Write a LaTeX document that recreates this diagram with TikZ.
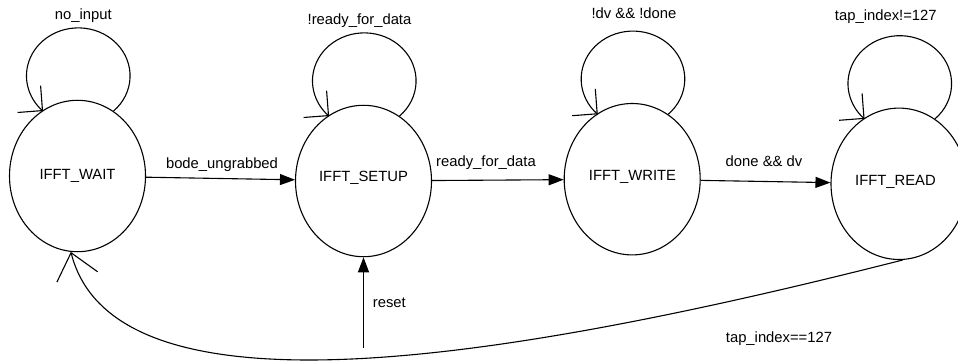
\documentclass[tikz,border=0pt]{standalone}
\usepackage{fontspec}
\setmainfont{Liberation Sans}
\usetikzlibrary{shapes.geometric,arrows.meta}
\begin{document}
\begin{tikzpicture}[x=1bp,y=1bp,
  line width=1.1bp,
  state/.style={draw, ellipse, minimum width=136bp, minimum height=151.4bp, inner sep=0pt},
  txt/.style={anchor=base, inner sep=0pt, font=\fontsize{14.8bp}{17bp}\selectfont},
  fwd/.style={-{Triangle[length=15bp,width=11bp]}},
  loopar/.style={-{Straight Barb[length=17.7bp,width=35.4bp]}},
  backar/.style={-{Straight Barb[length=25bp,width=42bp]}},
  selfloop/.style={loopar},
]
\useasboundingbox[fill=white] (0,0) rectangle (958,362);

% states
\node[state] (wait)  at (77.5,186)  {};
\node[state] (setup) at (363.5,181) {};
\node[state] (write) at (632.2,182.8) {};
\node[state] (read)  at (899,178.2) {};

\node[txt] (waitT)  at (77.5,182.7)  {IFFT\_WAIT};
\node[txt] (setupT) at (363.5,180.3) {IFFT\_SETUP};
\node[txt] (writeT) at (632.5,181.3) {IFFT\_WRITE};
\node[txt] (readT)  at (895.5,176.3) {IFFT\_READ};

% self loops
\draw[selfloop] (wait.61)  arc[start angle=-47.2, end angle=227.2, x radius=51.8bp, y radius=48bp];
\draw[selfloop] (setup.61) arc[start angle=-47.2, end angle=227.2, x radius=51.8bp, y radius=48bp];
\draw[selfloop] (write.61) arc[start angle=-47.2, end angle=227.2, x radius=51.8bp, y radius=48bp];
\draw[selfloop] (read.61)  arc[start angle=-47.2, end angle=227.2, x radius=51.8bp, y radius=48bp];

\node[txt] (l1) at (83.3,342.5) {no\_input};
\node[txt] (l2) at (359.5,338) {!ready\_for\_data};
\node[txt] (l3) at (634,343.5) {!dv \&\& !done};
\node[txt] (l4) at (885.8,341.5) {tap\_index!=127};

% forward transitions
\draw[fwd] (wait) -- (setup);
\draw[fwd] (setup) -- (write);
\draw[fwd] (write) -- (read);

\node[txt] (e1) at (222,194) {bode\_ungrabbed};
\node[txt] (e2) at (486,196) {ready\_for\_data};
\node[txt] (e3) at (764,195.5) {done \&\& dv};

% reset
\coordinate (rst) at (363.5,14);
\draw[fwd] (rst) -- (setup.south);
\node[txt] (e4) at (389.3,55) {reset};

% back transition
\draw[backar] (read.-87) .. controls (482,-5) and (113.6,-58) .. (wait.-95.7);
\node[txt] (e5) at (779,19.5) {tap\_index==127};
\end{tikzpicture}
\end{document}
